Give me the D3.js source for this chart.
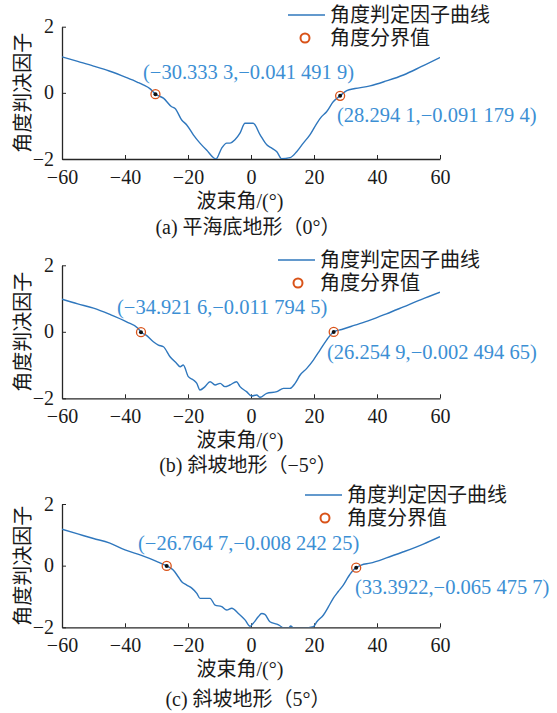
<!DOCTYPE html>
<html>
<head>
<meta charset="utf-8">
<script src="https://cdn.jsdelivr.net/npm/d3@7"></script>
<style>
  body { margin: 0; background: #fff; }
  svg { display: block; }
</style>
</head>
<body>
<div id="chart"></div>
<script>
// beam angle (deg) and angle decision factor
var angleA = [-60, -55, -50, -45, -39.5, -36, -34.2, -32, -30.33, -27.8, -25.2, -24.1, -22, -20.4, -18.3, -16.2, -14.1, -11.1, -9.3, -7.7, -6.7, -5.1, -3.5, -1.9, 0.7, 2.9, 5, 6.6, 8.2, 9.7, 12.4, 14.5, 16.6, 18.7, 20.9, 22.4, 24, 26.1, 28.29, 30.4, 33, 37.8, 43, 48.4, 54, 60]
var factorA = [1.09, 0.95, 0.81, 0.66, 0.46, 0.32, 0.24, 0.12, -0.04, -0.16, -0.42, -0.47, -0.82, -0.97, -1.27, -1.52, -1.73, -2.0, -1.67, -1.52, -1.52, -1.42, -1.22, -0.92, -0.92, -1.27, -1.57, -1.67, -1.78, -1.99, -1.96, -1.78, -1.52, -1.27, -0.92, -0.72, -0.57, -0.27, -0.09, 0.07, 0.13, 0.21, 0.36, 0.54, 0.79, 1.07]

var angleB = [-60, -55, -50, -45, -39.5, -35.8, -34.92, -33.3, -31, -29.4, -27.8, -25.7, -23.6, -22.5, -21.5, -19.9, -18.3, -17.2, -16.2, -14.6, -13, -11.4, -9.8, -8.3, -6.7, -4.6, -3.5, -1.4, 0.2, 1.8, 2.9, 5, 8.2, 10.3, 12.4, 14, 15.6, 17.7, 19.8, 21.9, 24, 26.25, 28.8, 33, 37.8, 43, 48.4, 54, 60]
var factorB = [0.98, 0.84, 0.71, 0.53, 0.30, 0.10, -0.01, -0.10, -0.30, -0.40, -0.45, -0.75, -0.95, -1.05, -1.0, -1.35, -1.45, -1.55, -1.75, -1.65, -1.5, -1.6, -1.55, -1.65, -1.6, -1.5, -1.65, -1.8, -1.93, -1.9, -1.97, -1.85, -1.8, -1.7, -1.7, -1.55, -1.3, -1.1, -0.85, -0.55, -0.25, 0.0, 0.07, 0.2, 0.35, 0.54, 0.75, 0.97, 1.19]

var angleC = [-60, -55, -50, -45, -40, -35, -30, -26.76, -24.7, -23.1, -22, -20.4, -18.8, -17.2, -16.2, -13, -11.4, -9.3, -7.7, -6.1, -4, -1.9, -0.3, 0.7, 2.3, 3.4, 4.4, 6, 8.2, 9.2, 10.3, 12, 12.6, 13.5, 16, 19.8, 20.9, 23, 24.6, 26.1, 27.7, 29.3, 30.9, 32.5, 33.39, 35, 37.8, 43, 48.4, 54.7, 60]
var factorC = [1.18, 1.03, 0.88, 0.74, 0.51, 0.34, 0.14, -0.01, -0.14, -0.36, -0.52, -0.63, -0.73, -0.9, -1.06, -1.06, -1.28, -1.33, -1.44, -1.38, -1.55, -1.76, -1.97, -1.87, -1.66, -1.55, -1.58, -1.82, -1.9, -1.95, -2.02, -2.02, -1.96, -2.02, -2.03, -1.98, -1.82, -1.6, -1.33, -1.06, -0.84, -0.63, -0.36, -0.14, -0.07, 0.02, 0.08, 0.25, 0.45, 0.7, 0.94]

// boundary values (angle, factor) and their labels
var boundsA = [[-30.3333, -0.0414919], [28.2941, -0.0911794]]
var boundsB = [[-34.9216, -0.0117945], [26.2549, -0.00249465]]
var boundsC = [[-26.7647, -0.00824225], [33.3922, -0.0654757]]
var boundTextA = ["(\u221230.333 3,\u22120.041 491 9)", "(28.294 1,\u22120.091 179 4)"]
var boundTextB = ["(\u221234.921 6,\u22120.011 794 5)", "(26.254 9,\u22120.002 494 65)"]
var boundTextC = ["(\u221226.764 7,\u22120.008 242 25)", "(33.3922,\u22120.065 475 7)"]

var xTicks = [-60, -40, -20, 0, 20, 40, 60]
var yTicks = [-2, 0, 2]
var captions = ["(a) 平海底地形（0°）", "(b) 斜坡地形（\u22125°）", "(c) 斜坡地形（5°）"]
var legendNames = ["角度判定因子曲线", "角度分界值"]

var W = 557, H = 713
var lineColor = "#2f77bd", noteColor = "#3c8fd4", ringColor = "#d95319", axisColor = "#262626"
var serif = '"Liberation Serif", "Times New Roman", "DejaVu Serif", "Noto Sans CJK SC", serif'
var fmt = d3.format("d")

// per panel layout: plot top/bottom, legend and note positions
var panels = [
  {x: angleA, y: factorA, b: boundsA, t: boundTextA, cap: captions[0], top: 26.7, bot: 159,
   leg: [288, 15, 305, 38], notes: [[143, 72], [337, 115]], capY: 227},
  {x: angleB, y: factorB, b: boundsB, t: boundTextB, cap: captions[1], top: 265.3, bot: 398.3,
   leg: [278, 260, 298, 283], notes: [[117, 307], [327, 352]], capY: 465},
  {x: angleC, y: factorC, b: boundsC, t: boundTextC, cap: captions[2], top: 504, bot: 627.3,
   leg: [305, 495, 325, 518], notes: [[138, 543], [355, 587]], capY: 699}
]

var svg = d3.select('#chart').append('svg').attr('width', W).attr('height', H)

function label(g, x, y, size, txt) {
  return g.append('text').attr('x', x).attr('y', y).attr('dy', '0.35em')
    .style('font-family', serif).style('font-size', size + 'px').style('fill', '#1a1a1a').text(txt)
}

panels.forEach(function(p, i) {
  var x = d3.scaleLinear().domain([-60, 60]).range([62, 440])
  var y = d3.scaleLinear().domain([-2, 2]).range([p.bot, p.top])
  var g = svg.append('g')

  g.append('clipPath').attr('id', 'clip' + i)
    .append('rect').attr('x', 62).attr('y', p.top - 2).attr('width', 378).attr('height', p.bot - p.top + 2)

  var xAxis = g.append('g').attr('transform', 'translate(0,' + p.bot + ')')
    .call(d3.axisBottom(x).tickValues(xTicks).tickFormat(fmt).tickSize(-4).tickSizeOuter(0).tickPadding(11))
  var yAxis = g.append('g').attr('transform', 'translate(62,0)')
    .call(d3.axisLeft(y).tickValues(yTicks).tickFormat(fmt).tickSize(-4).tickSizeOuter(0).tickPadding(8))
  ;[xAxis, yAxis].forEach(function(a) {
    a.select('.domain').attr('stroke', axisColor).attr('stroke-width', 1.3)
    a.selectAll('.tick line').attr('stroke', axisColor).attr('stroke-width', 1)
    a.selectAll('.tick text').style('font-family', serif).style('font-size', '20px').style('fill', '#1a1a1a')
  })
  yAxis.selectAll('.tick text').attr('dy', '0.3em')

  var pts = p.x.map(function(d, k) { return [d, p.y[k]] })
  var line = d3.line().x(function(d) { return x(d[0]) }).y(function(d) { return y(d[1]) }).curve(d3.curveMonotoneX)
  g.append('path').datum(pts)
    .attr('clip-path', 'url(#clip' + i + ')')
    .attr('fill', 'none').attr('stroke', lineColor).attr('stroke-width', 1.4)
    .attr('d', line)

  // boundary markers
  g.selectAll('.ring').data(p.b).enter().append('circle')
    .attr('cx', function(d) { return x(d[0]) }).attr('cy', function(d) { return y(d[1]) })
    .attr('r', 4.5).attr('fill', 'none').attr('stroke', ringColor).attr('stroke-width', 1.3)
  g.selectAll('.dot').data(p.b).enter().append('circle')
    .attr('cx', function(d) { return x(d[0]) }).attr('cy', function(d) { return y(d[1]) })
    .attr('r', 2).attr('fill', '#111')

  // notes
  p.notes.forEach(function(n, k) {
    label(g, n[0], n[1], 20.5, p.t[k]).style('fill', noteColor)
  })

  // legend
  var L = p.leg
  g.append('line').attr('x1', L[0]).attr('x2', L[0] + 37).attr('y1', L[1]).attr('y2', L[1])
    .attr('stroke', lineColor).attr('stroke-width', 1.4)
  label(g, L[0] + 42, L[1], 20, legendNames[0])
  g.append('circle').attr('cx', L[2]).attr('cy', L[3]).attr('r', 4.5)
    .attr('fill', 'none').attr('stroke', ringColor).attr('stroke-width', 2)
  label(g, L[0] + 42, L[3], 20, legendNames[1])

  // axis titles and caption
  label(g, 0, 0, 20, '角度判决因子')
    .attr('transform', 'translate(23,' + ((p.top + p.bot) / 2) + ') rotate(-90)')
    .attr('text-anchor', 'middle')
  label(g, 240, p.bot + 42, 20, '波束角/(°)').attr('text-anchor', 'middle')
  label(g, 248, p.capY, 20, p.cap).attr('text-anchor', 'middle')
})
</script>
</body>
</html>
